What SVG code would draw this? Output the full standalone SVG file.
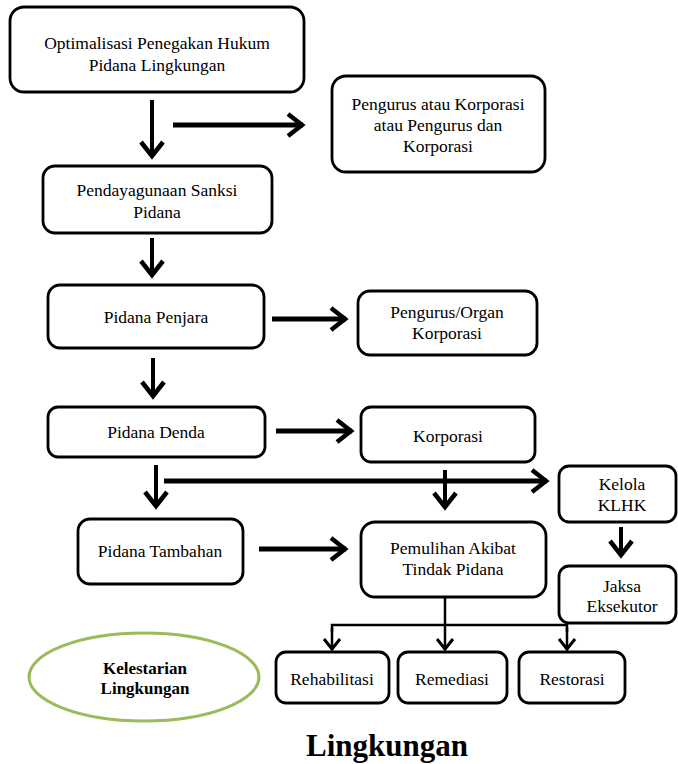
<svg xmlns="http://www.w3.org/2000/svg" width="678" height="764" viewBox="0 0 678 764">
<style>
.box{fill:#fff;stroke:#000;stroke-width:2.8}
text{font-family:'Liberation Serif','Times New Roman','DejaVu Serif',serif;font-size:17.5px;fill:#000;text-anchor:middle}
.b{font-weight:bold;font-size:17px}
.big{font-weight:bold;font-size:31px}
.c{fill:none;stroke:#000;stroke-width:4}
.h{fill:none;stroke:#000;stroke-width:5}
.s{fill:none;stroke:#000;stroke-width:2.5}
</style>
<defs>
<marker id="ah" viewBox="0 0 24 26" refX="21" refY="13" markerWidth="24" markerHeight="26" markerUnits="userSpaceOnUse" orient="auto">
<path d="M6,2 L20,13 L6,24" fill="none" stroke="#000" stroke-width="4.5"/>
</marker>
<marker id="ahs" viewBox="0 0 20 20" refX="17" refY="10" markerWidth="20" markerHeight="20" markerUnits="userSpaceOnUse" orient="auto">
<path d="M6,2 L16,10 L6,18" fill="none" stroke="#000" stroke-width="3"/>
</marker>
</defs>
<rect width="678" height="764" fill="#fff"/>

<g id="connectors">
<line class="c" x1="152" y1="100" x2="152" y2="157" marker-end="url(#ah)"/>
<line class="h" x1="173" y1="125" x2="303" y2="125" marker-end="url(#ah)"/>
<line class="c" x1="152" y1="238" x2="152" y2="276" marker-end="url(#ah)"/>
<line class="h" x1="272" y1="319" x2="346" y2="319" marker-end="url(#ah)"/>
<line class="c" x1="153" y1="358" x2="153" y2="397" marker-end="url(#ah)"/>
<line class="h" x1="276" y1="431" x2="352" y2="431" marker-end="url(#ah)"/>
<line class="c" x1="156" y1="465" x2="156" y2="507" marker-end="url(#ah)"/>
<line class="h" x1="164" y1="481" x2="547" y2="481" marker-end="url(#ah)"/>
<line class="c" x1="445" y1="470" x2="445" y2="508" marker-end="url(#ah)"/>
<line class="c" x1="621" y1="527" x2="621" y2="556" marker-end="url(#ah)"/>
<line class="h" x1="259" y1="549" x2="346" y2="549" marker-end="url(#ah)"/>
<line class="s" x1="445" y1="597" x2="445" y2="625"/>
<polyline class="s" points="332,632 332,625 567,625 567,632"/>
<line class="s" x1="332" y1="628" x2="332" y2="650" marker-end="url(#ahs)"/>
<line class="s" x1="445" y1="625" x2="445" y2="650" marker-end="url(#ahs)"/>
<line class="s" x1="567" y1="628" x2="567" y2="650" marker-end="url(#ahs)"/>
</g>

<g id="n-optimalisasi">
<rect class="box" x="10" y="7" width="294" height="85" rx="14"/>
<text x="157" y="49">Optimalisasi Penegakan Hukum</text>
<text x="157" y="71">Pidana Lingkungan</text>
</g>
<g id="n-pengurus-korporasi">
<rect class="box" x="332" y="76" width="213" height="96" rx="14"/>
<text x="438" y="110">Pengurus atau Korporasi</text>
<text x="438" y="131">atau Pengurus dan</text>
<text x="438" y="152">Korporasi</text>
</g>
<g id="n-pendayagunaan">
<rect class="box" x="43" y="166" width="229" height="67" rx="12"/>
<text x="157" y="196">Pendayagunaan Sanksi</text>
<text x="157" y="218">Pidana</text>
</g>
<g id="n-penjara">
<rect class="box" x="48" y="285" width="216" height="63" rx="12"/>
<text x="156" y="323">Pidana Penjara</text>
</g>
<g id="n-organ">
<rect class="box" x="358" y="291" width="179" height="64" rx="12"/>
<text x="447" y="318">Pengurus/Organ</text>
<text x="447" y="339">Korporasi</text>
</g>
<g id="n-denda">
<rect class="box" x="48" y="407" width="217" height="50" rx="10"/>
<text x="156" y="438">Pidana Denda</text>
</g>
<g id="n-korporasi">
<rect class="box" x="361" y="407" width="174" height="55" rx="10"/>
<text x="448" y="442">Korporasi</text>
</g>
<g id="n-kelola">
<rect class="box" x="559" y="466" width="117" height="56" rx="10"/>
<text x="622" y="490">Kelola</text>
<text x="622" y="511">KLHK</text>
</g>
<g id="n-jaksa">
<rect class="box" x="559" y="566" width="117" height="57" rx="10"/>
<text x="622" y="592">Jaksa</text>
<text x="622" y="612">Eksekutor</text>
</g>
<g id="n-tambahan">
<rect class="box" x="78" y="519" width="165" height="65" rx="12"/>
<text x="160" y="557">Pidana Tambahan</text>
</g>
<g id="n-pemulihan">
<rect class="box" x="361" y="522" width="185" height="75" rx="14"/>
<text x="453" y="554">Pemulihan Akibat</text>
<text x="453" y="575">Tindak Pidana</text>
</g>
<g id="n-rehabilitasi">
<rect class="box" x="276" y="652" width="113" height="51" rx="10"/>
<text x="332" y="685">Rehabilitasi</text>
</g>
<g id="n-remediasi">
<rect class="box" x="398" y="652" width="109" height="51" rx="10"/>
<text x="452" y="685">Remediasi</text>
</g>
<g id="n-restorasi">
<rect class="box" x="519" y="652" width="106" height="51" rx="10"/>
<text x="572" y="685">Restorasi</text>
</g>
<g id="n-kelestarian">
<ellipse cx="144" cy="677" rx="115" ry="44" fill="#fff" stroke="#9bbb59" stroke-width="3"/>
<text class="b" x="145" y="674">Kelestarian</text>
<text class="b" x="145" y="694">Lingkungan</text>
</g>
<g id="title">
<text class="big" x="387" y="756">Lingkungan</text>
</g>
</svg>
